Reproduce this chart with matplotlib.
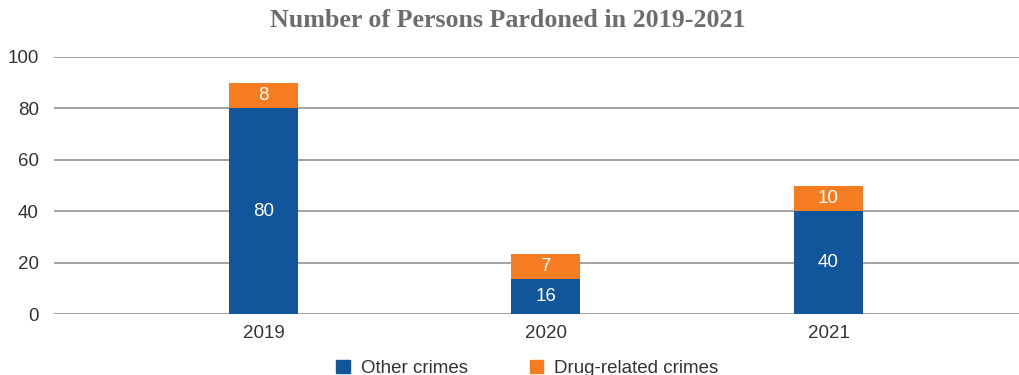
import matplotlib.pyplot as plt
from matplotlib.patches import Patch

years = ["2019", "2020", "2021"]
# bar heights as drawn in the chart
other_crimes = [80, 13.7, 40]
drug_crimes = [10, 9.7, 10]
# numbers printed on the bars
other_labels = ["80", "16", "40"]
drug_labels = ["8", "7", "10"]

blue = "#11569B"
orange = "#F57C20"

plt.rcParams["font.family"] = ["Liberation Sans", "DejaVu Sans"]

fig = plt.figure(figsize=(10.2, 3.75), dpi=100)
ax = fig.add_axes([0.053, 0.162, 0.947, 0.686])

x = range(len(years))
bars1 = ax.bar(x, other_crimes, width=0.244, color=blue, zorder=3)
bars2 = ax.bar(x, drug_crimes, width=0.244, bottom=other_crimes,
               color=orange, zorder=3)

for b, t in zip(bars1, other_labels):
    ax.text(b.get_x() + b.get_width() / 2, b.get_y() + b.get_height() / 2, t,
            ha="center", va="center", color="white", fontsize=13.5, zorder=4)
for b, t in zip(bars2, drug_labels):
    ax.text(b.get_x() + b.get_width() / 2, b.get_y() + b.get_height() / 2, t,
            ha="center", va="center", color="white", fontsize=13.5, zorder=4)

ax.set_xlim(-0.741, 2.678)
ax.set_ylim(0, 100)
ax.set_yticks(range(0, 101, 20))
ax.set_xticks(list(x))
ax.set_xticklabels(years)
ax.grid(axis="y", color="#8a8a8a", linewidth=1.1, zorder=0)
ax.set_axisbelow(True)
ax.tick_params(axis="both", length=0, labelsize=13.5, colors="#333333")
ax.tick_params(axis="y", pad=11)
ax.tick_params(axis="x", pad=8)
for s in ax.spines.values():
    s.set_visible(False)

fig.text(0.498, 0.945, "Number of Persons Pardoned in 2019-2021",
         ha="center", va="center", fontsize=18.7, fontweight="bold",
         color="#6d6d6d", family=["Liberation Serif", "DejaVu Serif"])

handles = [Patch(color=blue, label="Other crimes"),
           Patch(color=orange, label="Drug-related crimes")]
fig.legend(handles=handles, loc="center", bbox_to_anchor=(0.517, 0.018),
           ncol=2, frameon=False, fontsize=13.5, handlelength=0.7,
           handleheight=0.7, handletextpad=0.6, columnspacing=3.3,
           labelcolor="#333333")

fig.savefig("out.png", dpi=100)
